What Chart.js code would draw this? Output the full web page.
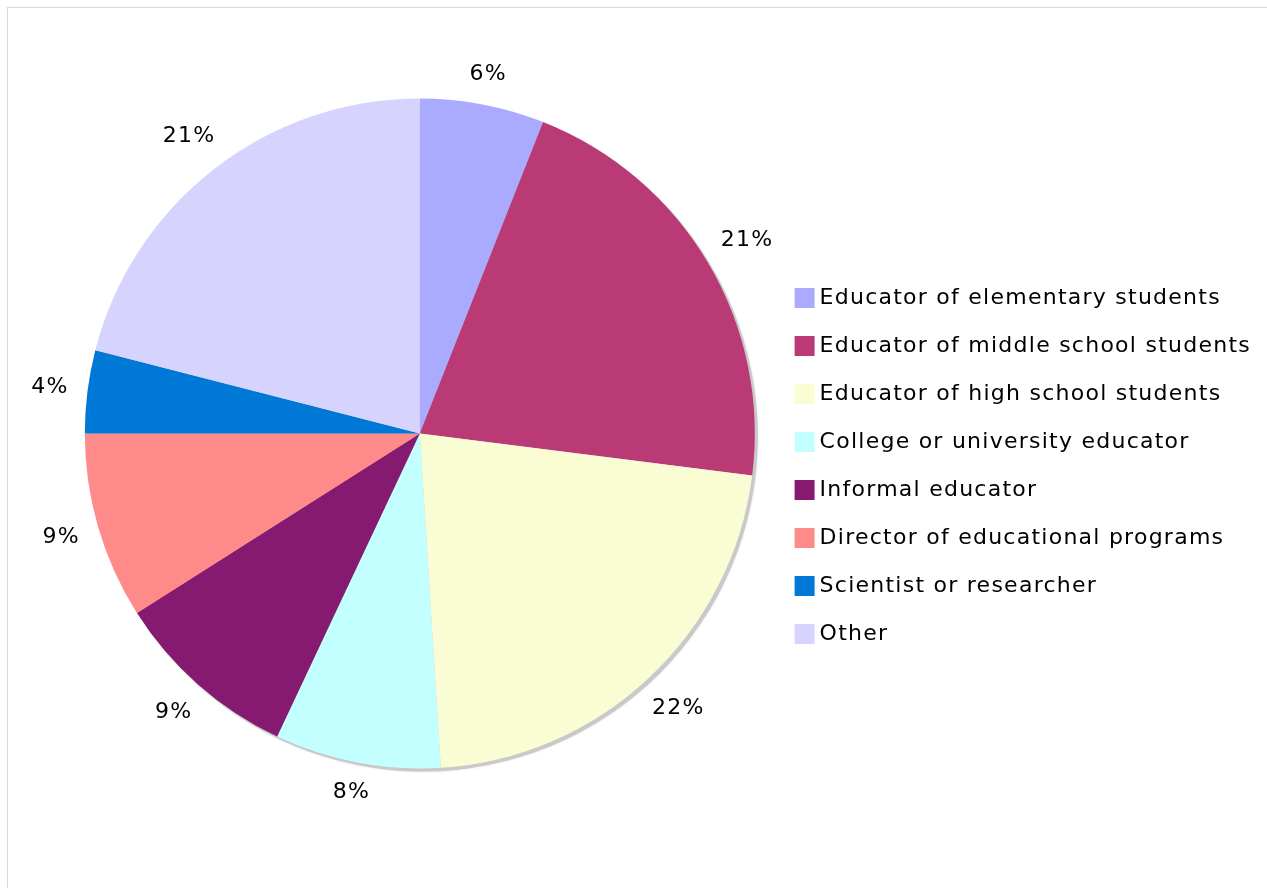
<!DOCTYPE html>
<html>
<head>
<meta charset="utf-8">
<script src="https://cdn.jsdelivr.net/npm/chart.js@4"></script>
<style>
  html, body { margin: 0; padding: 0; background: #fff; }
  #frame {
    position: absolute; left: 7px; top: 7px; width: 1260px; height: 881px;
    border-top: 1px solid #d8d8d8; border-left: 1px solid #d8d8d8;
  }
  #wrap { position: absolute; left: 0; top: 0; width: 1267px; height: 888px; }
</style>
</head>
<body>
<div id="frame"></div>
<div id="wrap"><canvas id="roleChart"></canvas></div>
<script>
const roles = [
  'Educator of elementary students',
  'Educator of middle school students',
  'Educator of high school students',
  'College or university educator',
  'Informal educator',
  'Director of educational programs',
  'Scientist or researcher',
  'Other'
];
const shares = [6, 21, 22, 8, 9, 9, 4, 21];
const sliceColors = ['#aaaaff', '#b93a75', '#fafdd4', '#c4ffff', '#861a70', '#ff8a8a', '#0079d6', '#d6d4ff'];

const fontFamily = '"DejaVu Sans", Verdana, sans-serif';
const textSpacing = '1.25px';

// wider letters, closer to Verdana; context state is lost on resize so set it each pass
const wideText = {
  id: 'wideText',
  beforeUpdate(chart) { chart.ctx.letterSpacing = textSpacing; },
  beforeDraw(chart) { chart.ctx.letterSpacing = textSpacing; }
};

// grey disc offset behind the pie, gives the drop shadow on the lower right
const pieShadow = {
  id: 'pieShadow',
  beforeDatasetsDraw(chart) {
    const arc = chart.getDatasetMeta(0).data[0];
    if (!arc) return;
    const { x, y, outerRadius } = arc.getProps(['x', 'y', 'outerRadius'], true);
    const ctx = chart.ctx;
    ctx.save();
    ctx.fillStyle = '#c9c9c9';
    ctx.shadowColor = 'rgba(180,180,180,0.6)';
    ctx.shadowBlur = 2;
    ctx.beginPath();
    ctx.arc(x + 3, y + 3, outerRadius, 0, Math.PI * 2);
    ctx.fill();
    ctx.restore();
  }
};

// percentage text outside each slice
const sliceLabels = {
  id: 'sliceLabels',
  afterDatasetsDraw(chart) {
    const ctx = chart.ctx;
    const values = chart.data.datasets[0].data;
    ctx.save();
    ctx.font = '22px ' + fontFamily;
    ctx.fillStyle = '#000';
    ctx.textAlign = 'center';
    ctx.textBaseline = 'middle';
    chart.getDatasetMeta(0).data.forEach((arc, i) => {
      const p = arc.getProps(['x', 'y', 'startAngle', 'endAngle', 'outerRadius'], true);
      const mid = (p.startAngle + p.endAngle) / 2;
      const text = values[i] + '%';
      const halfW = ctx.measureText(text).width / 2;
      const cos = Math.cos(mid), sin = Math.sin(mid);
      const r = p.outerRadius + 18 + Math.abs(cos) * halfW + Math.abs(sin) * 9;
      ctx.fillText(text, p.x + cos * r, p.y + sin * r);
    });
    ctx.restore();
  }
};

const ctx = document.getElementById('roleChart').getContext('2d');
new Chart(ctx, {
  type: 'pie',
  data: {
    labels: roles,
    datasets: [{
      data: shares,
      backgroundColor: sliceColors,
      borderWidth: 0,
      radius: 335
    }]
  },
  options: {
    responsive: true,
    maintainAspectRatio: false,
    animation: false,
    layout: { padding: { left: 65, right: 6, top: 99, bottom: 120 } },
    plugins: {
      tooltip: { enabled: false },
      legend: {
        position: 'right',
        title: { display: true, text: '', font: { size: 10, lineHeight: 1 }, padding: { top: 0, bottom: 55 } },
        labels: {
          color: '#000',
          font: { size: 22, family: fontFamily },
          boxWidth: 8,
          boxHeight: 8,
          padding: 26,
          generateLabels: (chart) => {
            const items = Chart.overrides.pie.plugins.legend.labels.generateLabels(chart);
            // thick stroke around a small box keeps the text close to the swatch
            return items.map(item => Object.assign(item, {
              strokeStyle: item.fillStyle,
              lineWidth: 12,
              lineJoin: 'miter'
            }));
          }
        }
      }
    }
  },
  plugins: [wideText, pieShadow, sliceLabels]
});
</script>
</body>
</html>
